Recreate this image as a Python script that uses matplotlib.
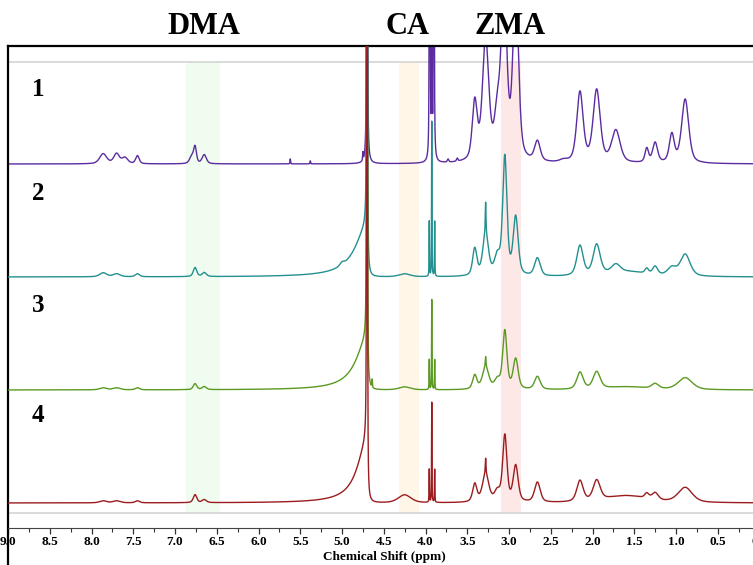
import numpy as np
import matplotlib.pyplot as plt
from matplotlib.transforms import blended_transform_factory

plt.rcParams['font.family'] = ['Liberation Serif', 'DejaVu Serif']
plt.rcParams['font.weight'] = 'bold'

# peak tables: position [ppm], height [px above baseline], half width [ppm]
# trace 1
t1_pos = [7.86, 7.70, 7.60, 7.45, 6.80, 6.76, 6.65, 5.62, 5.38, 4.70, 4.75,
          3.95, 3.925, 3.90, 3.73, 3.62, 3.41, 3.28, 3.14, 3.06, 2.92, 2.66, 2.35,
          2.15, 1.95, 1.72, 1.35, 1.25, 1.05, 0.89]
t1_amp = [10, 10, 6, 8, 7, 16, 9, 5, 3, 600, 8,
          500, 150, 500, 3, 3, 58, 120, 42, 170, 170, 20, 2,
          70, 72, 32, 14, 20, 28, 64]
t1_hw = [0.05, 0.04, 0.04, 0.025, 0.03, 0.02, 0.03, 0.004, 0.004, 0.006, 0.004,
         0.005, 0.005, 0.005, 0.01, 0.01, 0.035, 0.045, 0.04, 0.04, 0.04, 0.04, 0.05,
         0.045, 0.05, 0.06, 0.025, 0.035, 0.035, 0.05]

# trace 2
t2_pos = [7.86, 7.70, 7.45, 6.76, 6.65, 4.70, 5.00, 4.25,
          3.955, 3.925, 3.89, 3.41, 3.28, 3.28, 3.14, 3.05, 2.92, 2.66,
          2.15, 1.95, 1.72, 1.60, 1.35, 1.25, 1.05, 0.89]
t2_amp = [4, 3, 3, 9, 4, 600, 3, 3,
          55, 155, 55, 27, 30, 42, 18, 118, 58, 18,
          30, 30, 8, 5, 5, 8, 8, 22]
t2_hw = [0.05, 0.05, 0.03, 0.025, 0.03, 0.006, 0.03, 0.08,
         0.003, 0.003, 0.003, 0.03, 0.005, 0.04, 0.04, 0.03, 0.035, 0.04,
         0.045, 0.05, 0.06, 0.3, 0.025, 0.035, 0.06, 0.07]

# trace 3
t3_pos = [7.86, 7.70, 7.45, 6.76, 6.65, 4.70, 4.64, 4.25,
          3.955, 3.925, 3.89, 3.41, 3.28, 3.28, 3.14, 3.05, 2.92, 2.66,
          2.15, 1.95, 1.60, 1.25, 0.89]
t3_amp = [2, 2, 2, 6, 3, 600, 8, 3,
          30, 90, 30, 14, 10, 22, 9, 58, 30, 13,
          17, 17, 3, 5, 12]
t3_hw = [0.05, 0.05, 0.03, 0.025, 0.03, 0.006, 0.004, 0.08,
         0.003, 0.003, 0.003, 0.03, 0.005, 0.045, 0.04, 0.03, 0.035, 0.04,
         0.045, 0.05, 0.3, 0.05, 0.1]

# trace 4
t4_pos = [7.86, 7.70, 7.45, 6.76, 6.65, 4.70, 4.25,
          3.955, 3.925, 3.89, 3.41, 3.28, 3.28, 3.14, 3.05, 2.92, 2.66,
          2.15, 1.95, 1.60, 1.35, 1.25, 0.89]
t4_amp = [2, 2, 2, 8, 3, 600, 8,
          33, 100, 33, 18, 15, 28, 10, 66, 36, 20,
          21, 20, 7, 5, 7, 15]
t4_hw = [0.05, 0.05, 0.03, 0.025, 0.03, 0.006, 0.09,
         0.003, 0.003, 0.003, 0.03, 0.005, 0.045, 0.04, 0.03, 0.035, 0.04,
         0.045, 0.05, 0.3, 0.03, 0.045, 0.1]

# broad downfield wing of the water signal (traces 2-4): height, half width
wing_amp = [0, 50, 50, 60]
wing_hw = [0.1, 0.17, 0.16, 0.14]

baselines = [364, 251, 138, 25]
colors = ['#5b2ca0', '#23908f', '#5a9a22', '#9b1c1f']
labels = ['1', '2', '3', '4']
label_y = [438, 335, 223, 113]

bands = [(6.87, 6.46, '#effcef'), (4.32, 4.08, '#fff6e8'), (3.10, 2.86, '#fde7e7')]
band_names = ['DMA', 'CA', 'ZMA']
band_centers = [6.66, 4.22, 2.99]

WATER = 4.70


def peak_sum(x, pos, amp, hw):
    # half Lorentzian, half Gaussian line shape
    y = np.zeros_like(x)
    for p, a, w in zip(pos, amp, hw):
        d = x - p
        lor = w ** 2 / (w ** 2 + d ** 2)
        gau = np.exp(-np.log(2) * (d / w) ** 2)
        y += a * (0.5 * lor + 0.5 * gau)
    return y


def water_wing(x, amp, hw):
    # only on the high ppm side of the water line
    d = np.clip(x - WATER, 0, None)
    y = amp * hw ** 2 / (hw ** 2 + d ** 2)
    y[x < WATER] = amp * np.exp(-((x[x < WATER] - WATER) / 0.004) ** 2)
    return y


x = np.linspace(9.0, 0.0, 18001)
tables = [(t1_pos, t1_amp, t1_hw), (t2_pos, t2_amp, t2_hw),
          (t3_pos, t3_amp, t3_hw), (t4_pos, t4_amp, t4_hw)]

fig = plt.figure(figsize=(7.53, 5.65), dpi=100)
ax = fig.add_axes([8 / 753, 37 / 565, 751.5 / 753, 482 / 565])

for lo, hi, c in bands:
    ax.axvspan(hi, lo, ymin=15 / 482, ymax=466 / 482, color=c, lw=0, zorder=0)

ax.axhline(466, color='#d4d4d4', lw=1.2, zorder=1)
ax.axhline(15, color='#d4d4d4', lw=1.2, zorder=1)

for i, (pos, amp, hw) in enumerate(tables):
    y = peak_sum(x, pos, amp, hw) + water_wing(x, wing_amp[i], wing_hw[i])
    ax.plot(x, baselines[i] + y, color=colors[i], lw=1.0, zorder=2 + i)
    ax.text(8.64, label_y[i], labels[i], fontsize=18, fontweight='bold',
            ha='center', va='center')

trans = blended_transform_factory(ax.transData, fig.transFigure)
for name, cx in zip(band_names, band_centers):
    ax.text(cx, 1 - 27 / 565, name, transform=trans, fontsize=22,
            fontweight='bold', ha='center', va='center')

ax.set_xlim(9.0, 0.0)
ax.set_ylim(0, 482)
ax.set_yticks([])
ax.set_xticks(np.arange(0, 9.01, 0.5))
ax.set_xticks(np.arange(0, 9.01, 0.25), minor=True)
ax.xaxis.set_major_formatter(plt.FormatStrFormatter('%.1f'))
ax.tick_params(axis='x', which='major', length=4, width=0.9, pad=2,
               labelsize=9.5, colors='#333333', labelcolor='black')
ax.tick_params(axis='x', which='minor', length=3, width=0.8, colors='#333333')
for lab in ax.get_xticklabels():
    lab.set_fontweight('bold')

ax.spines['right'].set_visible(False)
ax.spines['top'].set_linewidth(1.6)
ax.spines['left'].set_linewidth(1.6)
ax.spines['left'].set_bounds(-40, 482)
ax.spines['bottom'].set_color('#444444')
ax.spines['bottom'].set_linewidth(0.8)

fig.text(384 / 753, 1 - 557 / 565, 'Chemical Shift (ppm)', fontsize=9.5,
         fontweight='bold', ha='center', va='center')

fig.savefig('out.png', dpi=100)
